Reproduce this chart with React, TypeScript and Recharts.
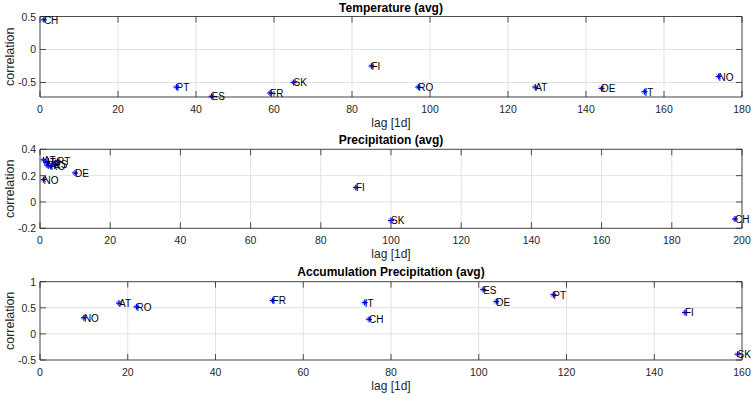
import React from 'react';
import { ScatterChart, Scatter, XAxis, YAxis, CartesianGrid, ReferenceArea } from 'recharts';

// ---- Data ----
const tempCountries = ['CH', 'PT', 'ES', 'FR', 'SK', 'FI', 'RO', 'AT', 'DE', 'IT', 'NO'];
const tempLag = [1, 35, 44, 59, 65, 85, 97, 127, 144, 155, 174];
const tempCorr = [0.45, -0.57, -0.71, -0.66, -0.5, -0.25, -0.57, -0.57, -0.59, -0.64, -0.41];

const precCountries = ['AT', 'IT', 'FR', 'RO', 'ES', 'PT', 'NO', 'DE', 'FI', 'SK', 'CH'];
const precLag = [1, 2, 2, 3, 4, 5, 1, 10, 90, 100, 198];
const precCorr = [0.32, 0.3, 0.28, 0.27, 0.29, 0.31, 0.17, 0.22, 0.11, -0.14, -0.13];

const accCountries = ['NO', 'AT', 'RO', 'FR', 'IT', 'CH', 'ES', 'DE', 'PT', 'FI', 'SK'];
const accLag = [10, 18, 22, 53, 74, 75, 101, 104, 117, 147, 159];
const accCorr = [0.31, 0.59, 0.52, 0.64, 0.6, 0.28, 0.85, 0.62, 0.75, 0.41, -0.39];

const tempXTicks = [0, 20, 40, 60, 80, 100, 120, 140, 160, 180];
const precXTicks = [0, 20, 40, 60, 80, 100, 120, 140, 160, 180, 200];
const accXTicks = [0, 20, 40, 60, 80, 100, 120, 140, 160];
const tempYTicks = [-0.5, 0, 0.5];
const precYTicks = [-0.2, 0, 0.2, 0.4];
const accYTicks = [-0.5, 0, 0.5, 1];

const titles = ['Temperature (avg)', 'Precipitation (avg)', 'Accumulation Precipitation (avg)'];
const xLabel = 'lag [1d]';
const yLabel = 'correlation';

// ---- Layout ----
const W = 753;
const H = 395;
const LEFT = 40;
const RIGHT = 742;
const XAXIS_H = 30;
const FONT = '"Liberation Sans", Arial, Helvetica, sans-serif';
const AX = '#262626';
const GRID = '#e2e2e2';
const TICK = 6;

type PanelProps = {
  title: string;
  names: string[];
  lags: number[];
  corrs: number[];
  xTicks: number[];
  yTicks: number[];
  xDomain: [number, number];
  yDomain: [number, number];
  top: number;
  bottom: number;
  titleY: number;
};

function Panel(props: PanelProps) {
  const { title, names, lags, corrs, xTicks, yTicks, xDomain, yDomain, top, bottom, titleY } = props;
  const data = names.map((n, i) => ({ name: n, lag: lags[i], corr: corrs[i] }));

  const XTick = (p: any) => (
    <g>
      <line x1={p.x} x2={p.x} y1={bottom} y2={bottom - TICK} stroke={AX} strokeWidth={0.8} />
      <line x1={p.x} x2={p.x} y1={top} y2={top + TICK} stroke={AX} strokeWidth={0.8} />
      <text
        x={p.x}
        y={bottom + 11.5}
        textAnchor="middle"
        dominantBaseline="central"
        fontSize={10.5}
        fontFamily={FONT}
        fill={AX}
      >
        {String(p.payload.value)}
      </text>
    </g>
  );

  const YTick = (p: any) => (
    <g>
      <line x1={LEFT} x2={LEFT + TICK} y1={p.y} y2={p.y} stroke={AX} strokeWidth={0.8} />
      <line x1={RIGHT} x2={RIGHT - TICK} y1={p.y} y2={p.y} stroke={AX} strokeWidth={0.8} />
      <text
        x={LEFT - 4}
        y={p.y}
        textAnchor="end"
        dominantBaseline="central"
        fontSize={10.5}
        fontFamily={FONT}
        fill={AX}
      >
        {String(p.payload.value)}
      </text>
    </g>
  );

  const XLabel = () => (
    <g>
      <text
        x={(LEFT + RIGHT) / 2}
        y={bottom + 26}
        textAnchor="middle"
        dominantBaseline="central"
        fontSize={12}
        fontFamily={FONT}
        fill={AX}
      >
        {xLabel}
      </text>
      <text
        x={(LEFT + RIGHT) / 2}
        y={titleY}
        textAnchor="middle"
        dominantBaseline="central"
        fontSize={12}
        fontWeight="bold"
        fontFamily={FONT}
        fill="#000"
      >
        {title}
      </text>
    </g>
  );

  const YLabel = () => {
    const cy = (top + bottom) / 2;
    return (
      <text
        x={10}
        y={cy}
        transform={`rotate(-90, 10, ${cy})`}
        textAnchor="middle"
        dominantBaseline="central"
        fontSize={12.5}
        fontFamily={FONT}
        fill={AX}
      >
        {yLabel}
      </text>
    );
  };

  const Marker = (p: any) => {
    const { cx, cy, payload } = p;
    if (cx == null || cy == null) return <g />;
    return (
      <g>
        <line x1={cx - 3} x2={cx + 3} y1={cy} y2={cy} stroke="#0000ff" strokeWidth={1.2} />
        <line x1={cx} x2={cx} y1={cy - 3} y2={cy + 3} stroke="#0000ff" strokeWidth={1.2} />
        <line x1={cx - 2} x2={cx + 2} y1={cy - 2} y2={cy + 2} stroke="#0000ff" strokeWidth={0.6} />
        <line x1={cx - 2} x2={cx + 2} y1={cy + 2} y2={cy - 2} stroke="#0000ff" strokeWidth={0.6} />
        <text
          x={cx}
          y={cy + 0.5}
          textAnchor="start"
          dominantBaseline="central"
          fontSize={10}
          fontFamily={FONT}
          fill="#000"
        >
          {payload.name}
        </text>
      </g>
    );
  };

  return (
    <div style={{ position: 'absolute', left: 0, top: 0, width: W, height: H }}>
      <ScatterChart
        width={W}
        height={H}
        margin={{ top: top, right: W - RIGHT, bottom: H - bottom - XAXIS_H, left: 0 }}
        style={{ overflow: 'visible' }}
      >
        <CartesianGrid stroke={GRID} strokeWidth={1} />
        <XAxis
          type="number"
          dataKey="lag"
          domain={xDomain}
          ticks={xTicks}
          interval={0}
          height={XAXIS_H}
          tick={XTick}
          tickLine={false}
          axisLine={false}
          label={<XLabel />}
        />
        <YAxis
          type="number"
          dataKey="corr"
          domain={yDomain}
          ticks={yTicks}
          interval={0}
          width={LEFT}
          tick={YTick}
          tickLine={false}
          axisLine={false}
          label={<YLabel />}
        />
        <ReferenceArea
          x1={xDomain[0]}
          x2={xDomain[1]}
          y1={yDomain[0]}
          y2={yDomain[1]}
          fill="none"
          fillOpacity={0}
          stroke={AX}
          strokeWidth={0.8}
        />
        <Scatter data={data} shape={Marker} isAnimationActive={false} />
      </ScatterChart>
    </div>
  );
}

export default function App() {
  return (
    <div style={{ position: 'absolute', left: 0, top: 0, width: W, height: H, background: '#fff', overflow: 'hidden' }}>
      <Panel
        title={titles[0]}
        names={tempCountries}
        lags={tempLag}
        corrs={tempCorr}
        xTicks={tempXTicks}
        yTicks={tempYTicks}
        xDomain={[0, 180]}
        yDomain={[-0.72, 0.5]}
        top={16.5}
        bottom={97}
        titleY={7.5}
      />
      <Panel
        title={titles[1]}
        names={precCountries}
        lags={precLag}
        corrs={precCorr}
        xTicks={precXTicks}
        yTicks={precYTicks}
        xDomain={[0, 200]}
        yDomain={[-0.2, 0.4]}
        top={149.3}
        bottom={228.3}
        titleY={139.5}
      />
      <Panel
        title={titles[2]}
        names={accCountries}
        lags={accLag}
        corrs={accCorr}
        xTicks={accXTicks}
        yTicks={accYTicks}
        xDomain={[0, 160]}
        yDomain={[-0.5, 1]}
        top={281.7}
        bottom={360}
        titleY={271.5}
      />
    </div>
  );
}
